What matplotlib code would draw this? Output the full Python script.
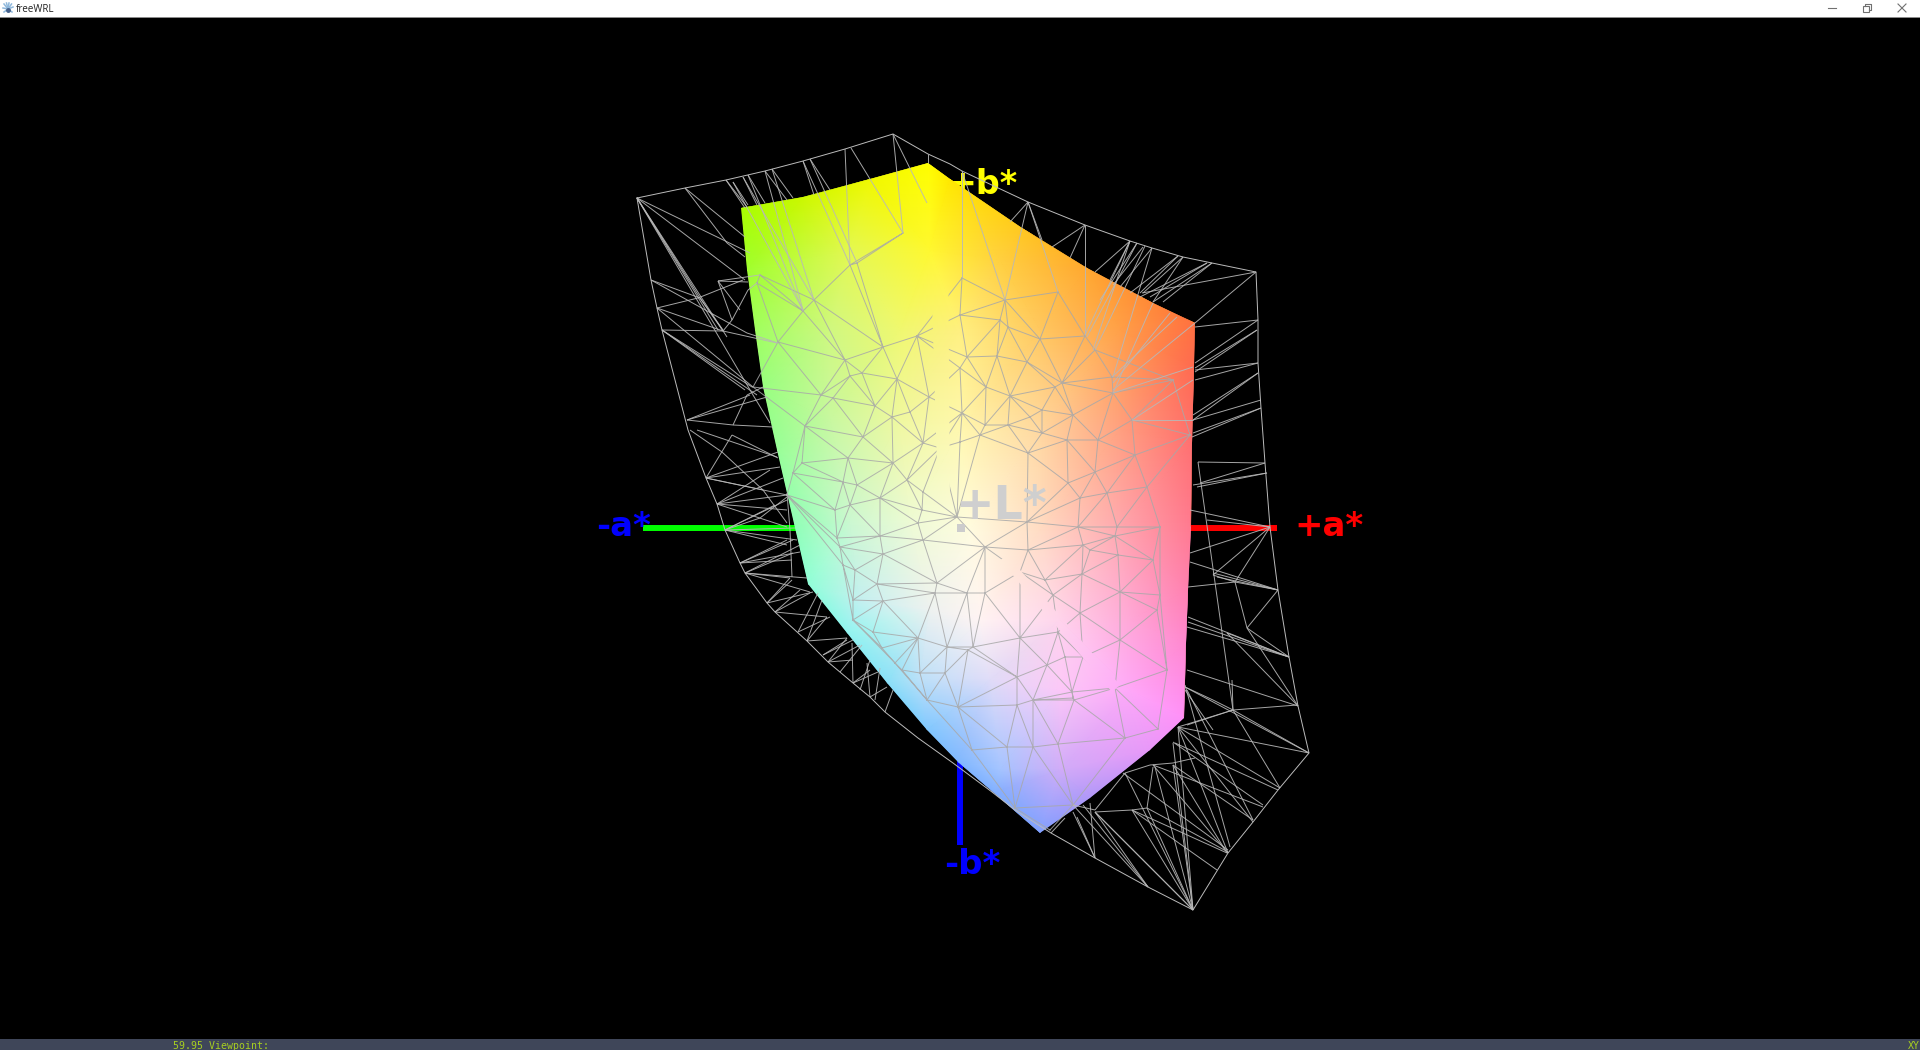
import numpy as np
import matplotlib
matplotlib.use("Agg")
import matplotlib.pyplot as plt
from matplotlib.collections import LineCollection, TriMesh
from matplotlib.colors import to_rgba_array
from matplotlib.patches import Polygon, Rectangle, PathPatch
from matplotlib.path import Path
from matplotlib.tri import Triangulation

# gamut solid, outline then inner colour nodes (x, y, colour)
gamut_outline = [
    (741, 208, "#a8ff00"), (803, 197, "#ccf800"), (870, 179, "#f0f800"), (928, 163, "#ffff00"),
    (950, 179, "#ffe800"), (1022, 228, "#ffc820"), (1087, 268, "#ffa830"), (1153, 303, "#ff8838"),
    (1195, 323, "#ff7040"), (1194, 367, "#ff6a50"), (1192, 443, "#ff7070"), (1191, 527, "#ff7a90"),
    (1188, 590, "#ff80b0"), (1186, 643, "#ff88d0"), (1184, 718, "#ff90f8"), (1150, 750, "#e898f8"),
    (1090, 798, "#b098f8"), (1040, 833, "#80a0ff"), (993, 792, "#80b0ff"), (958, 762, "#80b8ff"),
    (927, 730, "#80c8ff"), (887, 683, "#88e0f8"), (847, 633, "#90f4f0"), (808, 584, "#90ffd8"),
    (795, 528, "#90ffb8"), (777, 450, "#98ff98"), (763, 387, "#98ff80"), (755, 330, "#a0ff60"),
    (747, 270, "#a0ff30"),
]
gamut_inner = [
    (850, 250, "#e4f850"), (930, 250, "#fff830"), (1000, 260, "#ffd040"),
    (830, 330, "#d0f880"), (900, 330, "#f0f870"), (960, 330, "#fff080"), (1040, 330, "#ffc860"), (1120, 330, "#ffa048"),
    (830, 420, "#c8f8a0"), (900, 420, "#f0f8a0"), (960, 430, "#fff8b0"), (1040, 430, "#ffd8a0"), (1120, 430, "#ffa080"),
    (850, 520, "#ccf8d0"), (910, 520, "#eefbd4"), (970, 530, "#fffce0"), (1040, 530, "#ffdcc4"), (1120, 530, "#ffa8b0"),
    (860, 600, "#c4f0f0"), (930, 610, "#eef2f0"), (980, 620, "#fff4f4"), (1060, 620, "#ffd4ec"), (1130, 620, "#ffa8d8"),
    (920, 680, "#bce0f8"), (990, 680, "#e0dcf8"), (1060, 690, "#fcc8f8"), (1130, 690, "#ffa8f8"),
    (1000, 770, "#a4c4ff"), (1060, 770, "#d0acf8"),
]

# wire frame of the bigger gamut
wire_outline = [
    (637, 198), (685, 188), (726, 180), (765, 171), (803, 161), (845, 149), (893, 134), (928, 154),
    (950, 164), (962, 171), (1028, 202), (1085, 225), (1130, 241), (1152, 248), (1183, 257), (1212, 263),
    (1256, 272), (1258, 320), (1258, 363), (1261, 408), (1265, 463), (1270, 527), (1278, 590), (1289, 657),
    (1298, 706), (1309, 753), (1278, 790), (1253, 822), (1228, 853), (1193, 910), (1148, 887), (1095, 858),
    (1051, 833), (1015, 810), (992, 792), (953, 763), (918, 738), (885, 712), (870, 697), (853, 683),
    (828, 662), (807, 641), (775, 612), (767, 603), (745, 573), (740, 563), (725, 530), (717, 504),
    (706, 478), (688, 430), (662, 330), (657, 308), (651, 280),
]
wire_inner = [
    (903, 233), (850, 265), (857, 263), (814, 300), (803, 311), (760, 275), (757, 283), (778, 342),
    (845, 360), (883, 347), (917, 336), (897, 379), (850, 376), (862, 373), (821, 395), (833, 398),
    (875, 406), (929, 397), (892, 417), (910, 412), (805, 426), (753, 387), (962, 278), (960, 315),
    (1005, 300), (1000, 320), (1008, 327), (1040, 339), (1058, 292), (1085, 336), (1095, 350), (967, 357),
    (997, 356), (1027, 362), (960, 368), (986, 387), (1010, 396), (1042, 410), (1062, 383), (1055, 387),
    (1073, 415), (1112, 377), (1113, 393), (1173, 380), (1132, 420), (1190, 435), (1098, 440), (1067, 440),
    (1042, 433), (1008, 425), (985, 425), (980, 435), (960, 442), (962, 413), (1030, 417), (802, 463),
    (793, 473), (848, 458), (843, 482), (857, 485), (893, 463), (940, 448), (863, 437), (923, 443),
    (907, 480), (923, 492), (880, 498), (850, 505), (835, 510), (787, 495), (880, 536), (837, 538),
    (923, 540), (918, 523), (922, 510), (957, 517), (840, 547), (883, 554), (985, 547), (843, 565),
    (855, 570), (877, 584), (937, 583), (853, 600), (883, 601), (935, 593), (967, 593), (985, 593),
    (853, 620), (873, 632), (918, 638), (947, 647), (973, 647), (882, 648), (902, 670), (920, 673),
    (945, 673), (968, 650), (927, 700), (958, 707), (895, 663), (1028, 453), (1068, 483), (1095, 472),
    (1098, 440), (1135, 455), (1147, 487), (1107, 493), (1080, 498), (1027, 522), (1078, 527), (1117, 527),
    (1160, 527), (1115, 536), (1083, 545), (1090, 550), (1028, 550), (1118, 555), (1153, 560), (1020, 572),
    (1045, 580), (1082, 574), (1053, 595), (1120, 592), (1160, 595), (1157, 610), (1080, 613), (1120, 640),
    (1058, 632), (1020, 638), (1065, 657), (1047, 665), (1017, 677), (1083, 657), (1115, 688), (1167, 670),
    (1073, 698), (1033, 700), (1072, 692), (1074, 700), (1058, 744), (1125, 738), (1158, 729), (1073, 805),
    (972, 750), (1007, 747), (1015, 808), (1033, 747), (1050, 830), (1017, 705),
]

# long thin edges around the solid, x0 y0 x1 y1
spokes = [
    # top and upper left
    (637, 198, 750, 253), (637, 198, 745, 280), (637, 198, 700, 298), (700, 298, 723, 330), (637, 198, 727, 337),
    (637, 198, 718, 330), (637, 198, 753, 395), (685, 188, 745, 237), (685, 188, 727, 243), (727, 243, 745, 257),
    (726, 180, 747, 207), (733, 182, 803, 310), (743, 177, 814, 300), (748, 175, 803, 311), (765, 171, 803, 310),
    (772, 169, 814, 300), (803, 161, 850, 265), (810, 159, 857, 263), (845, 149, 850, 265), (851, 148, 903, 233),
    (893, 134, 903, 233), (893, 134, 927, 203), (803, 161, 814, 195), (810, 159, 830, 190), (726, 180, 745, 208),
    (733, 182, 748, 205), (743, 177, 757, 205), (748, 175, 765, 203), (765, 171, 787, 200), (772, 169, 793, 198),
    (928, 154, 928, 163), (651, 280, 747, 333), (747, 333, 778, 343), (651, 280, 700, 298), (700, 298, 723, 331),
    (657, 308, 698, 298), (698, 298, 743, 280), (657, 308, 723, 331), (657, 308, 753, 387), (662, 330, 723, 331),
    (723, 331, 777, 343), (662, 330, 752, 387), (662, 330, 757, 395), (662, 330, 745, 390), (687, 420, 750, 395),
    (687, 420, 767, 397), (718, 281, 748, 282), (718, 281, 732, 320), (732, 320, 723, 331), (732, 320, 748, 290),
    (748, 290, 757, 283), (718, 281, 740, 310), (718, 281, 760, 275), (687, 420, 733, 425), (733, 425, 773, 427),
    (733, 425, 747, 395), (747, 395, 763, 387), (753, 395, 770, 423),
    # lower left
    (706, 478, 780, 467), (706, 478, 787, 495), (732, 435, 706, 478), (732, 435, 778, 458), (690, 430, 722, 452),
    (722, 452, 763, 490), (763, 490, 787, 523), (697, 430, 777, 457), (717, 504, 787, 495), (717, 504, 787, 527),
    (725, 530, 760, 518), (760, 518, 787, 497), (725, 530, 795, 528), (725, 530, 787, 545), (740, 563, 793, 540),
    (740, 563, 800, 552), (745, 573, 807, 578), (745, 573, 793, 553), (767, 603, 792, 580), (775, 612, 810, 593),
    (775, 612, 827, 617), (767, 603, 813, 592), (798, 632, 818, 593), (807, 641, 847, 638), (807, 641, 827, 617),
    (823, 655, 847, 640), (828, 662, 853, 660), (828, 662, 847, 638), (853, 683, 852, 643), (853, 683, 870, 670),
    (870, 697, 867, 663), (870, 697, 887, 687), (885, 712, 893, 690), (787, 493, 790, 530), (790, 530, 792, 577),
    (706, 478, 763, 490), (745, 573, 790, 578), (717, 504, 787, 510), (725, 530, 797, 540), (740, 563, 787, 540),
    (745, 573, 810, 592), (767, 603, 790, 578), (775, 612, 800, 590), (798, 632, 830, 617), (807, 641, 822, 600),
    (823, 655, 853, 640), (828, 662, 860, 645), (840, 672, 862, 645), (853, 683, 878, 672), (860, 690, 870, 660),
    (875, 700, 880, 668), (740, 563, 792, 560), (745, 573, 800, 545), (725, 530, 775, 505), (717, 504, 783, 478),
    (706, 478, 778, 452), (717, 504, 770, 470), (725, 530, 787, 500),
    # top right
    (1130, 241, 1095, 272), (1130, 241, 1110, 280), (1130, 241, 1093, 350), (1130, 241, 1085, 335),
    (1137, 243, 1087, 337), (1137, 243, 1100, 300), (1145, 246, 1095, 350), (1143, 247, 1113, 285),
    (1152, 248, 1120, 287), (1152, 248, 1113, 377), (1178, 256, 1130, 293), (1183, 257, 1143, 293),
    (1178, 256, 1140, 293), (1183, 257, 1153, 302), (1207, 263, 1150, 297), (1212, 263, 1153, 302),
    (1207, 263, 1140, 297), (1212, 263, 1163, 302), (1256, 272, 1195, 323), (1256, 272, 1142, 293),
    (1085, 225, 1052, 247), (1085, 225, 1070, 258), (1085, 225, 1085, 335), (1028, 202, 1010, 222),
    (1028, 202, 1042, 240), (1028, 202, 1005, 300), (1028, 202, 1058, 292), (962, 171, 962, 278),
    (962, 171, 1005, 300), (1153, 303, 1113, 393), (1170, 313, 1113, 383), (1195, 323, 1113, 390),
    (1113, 393, 1193, 367), (1132, 420, 1193, 380), (1132, 420, 1193, 420), (1112, 377, 1177, 317),
    # right
    (1258, 320, 1195, 327), (1258, 320, 1195, 363), (1257, 330, 1195, 368), (1257, 330, 1195, 372),
    (1258, 363, 1195, 370), (1258, 363, 1195, 380), (1258, 373, 1193, 420), (1261, 400, 1193, 420),
    (1261, 408, 1193, 433), (1261, 408, 1192, 437), (1258, 373, 1193, 415), (1265, 463, 1198, 462),
    (1267, 473, 1193, 485), (1267, 473, 1197, 487), (1265, 463, 1200, 483), (1270, 527, 1190, 510),
    (1270, 527, 1207, 520), (1270, 527, 1190, 553), (1270, 527, 1213, 575), (1270, 527, 1235, 582),
    (1278, 590, 1190, 562), (1278, 590, 1213, 573), (1278, 590, 1217, 577), (1278, 590, 1235, 582),
    (1278, 590, 1247, 628), (1188, 587, 1235, 582), (1235, 582, 1247, 628), (1213, 575, 1235, 582),
    (1289, 657, 1188, 617), (1289, 657, 1188, 622), (1289, 657, 1187, 627), (1289, 657, 1227, 633),
    (1289, 657, 1247, 628), (1298, 706, 1227, 633), (1298, 706, 1247, 628), (1298, 706, 1187, 670),
    (1185, 687, 1213, 700), (1213, 700, 1233, 710), (1233, 710, 1187, 725), (1198, 462, 1233, 710),
    (1185, 690, 1213, 730),
    # bottom right
    (1309, 753, 1178, 727), (1309, 753, 1233, 710), (1309, 753, 1185, 687), (1233, 710, 1297, 705),
    (1178, 727, 1233, 710), (1232, 680, 1233, 710), (1233, 710, 1280, 788), (1185, 685, 1230, 847),
    (1187, 690, 1253, 820), (1178, 727, 1280, 788), (1173, 742, 1263, 805), (1173, 765, 1253, 820),
    (1153, 765, 1228, 853), (1173, 765, 1227, 853), (1173, 743, 1193, 910), (1155, 767, 1193, 910),
    (1125, 773, 1193, 910), (1132, 810, 1227, 853), (1147, 808, 1228, 852), (1123, 773, 1228, 850),
    (1095, 812, 1148, 887), (1095, 812, 1193, 910), (1077, 817, 1095, 858), (1083, 805, 1148, 887),
    (1125, 773, 1150, 765), (1150, 765, 1173, 763), (1173, 763, 1195, 758), (1095, 812, 1132, 810),
    (1132, 810, 1147, 808), (1147, 808, 1153, 767), (1073, 805, 1095, 810), (1125, 773, 1095, 810),
    (1193, 910, 1178, 727), (1193, 910, 1132, 810), (1193, 910, 1147, 808), (1193, 910, 1173, 765),
    (1228, 853, 1178, 727), (1253, 822, 1178, 727), (1263, 807, 1153, 765), (1278, 790, 1175, 743),
    (1095, 858, 1073, 812), (1095, 858, 1090, 803), (1217, 870, 1132, 810), (1051, 833, 1065, 818),
    (1193, 910, 1095, 812), (1148, 887, 1073, 805),
]

labels = [
    ("+b*", 948, 185, "#ffff00", 1, 24),
    ("+a*", 1294, 527, "#ff0000", 5, 24.5),
    ("-a*", 596, 527, "#0000ff", 5, 24.5),
    ("-b*", 944, 865, "#0000ff", 5, 24.5),
]

status_text = "59.95 Viewpoint:"
status_right = "XY"
window_title = "freeWRL"

fig = plt.figure(figsize=(19.2, 10.5), dpi=100, facecolor="black")
ax = fig.add_axes([0, 0, 1, 1])
ax.set_xlim(0, 1920)
ax.set_ylim(1050, 0)
ax.axis("off")

# axis bars, behind the solid
ax.plot([643, 800], [528, 528], color="#00ff00", lw=4.3, solid_capstyle="butt", zorder=1)
ax.plot([1185, 1277], [528, 528], color="#ff0000", lw=4.3, solid_capstyle="butt", zorder=1)
ax.plot([960, 960], [755, 845], color="#0000ff", lw=4.3, solid_capstyle="butt", zorder=1)

for text, x, y, col, z, size in labels:
    ax.text(x, y, text, color=col, fontsize=size, fontweight="bold", family="DejaVu Sans",
            ha="left", va="center", zorder=z)
ax.text(955, 519, "+L*", color="#cfcfcf", fontsize=33, fontweight="bold", family="DejaVu Sans",
        ha="left", va="baseline", zorder=5)

# gamut solid with smooth vertex colours
all_nodes = gamut_outline + gamut_inner
gx = np.array([p[0] for p in all_nodes], dtype=float)
gy = np.array([p[1] for p in all_nodes], dtype=float)
gcol = to_rgba_array([p[2] for p in all_nodes])
solid = TriMesh(Triangulation(gx, gy), zorder=2)
solid.set_facecolor(gcol)
ax.add_collection(solid, autolim=False)
clip = Polygon([(p[0], p[1]) for p in gamut_outline], closed=True, transform=ax.transData,
               fc="none", ec="none")
ax.add_patch(clip)
solid.set_clip_path(clip)

# wire frame, triangles only where they sit on the solid, no long hull edges
wx = np.array([p[0] for p in wire_inner], dtype=float)
wy = np.array([p[1] for p in wire_inner], dtype=float)
wire = Triangulation(wx, wy)
gamut_path = Path([(p[0], p[1]) for p in gamut_outline] + [gamut_outline[0][:2]])
tx = wx[wire.triangles]
ty = wy[wire.triangles]
cx = tx.mean(axis=1)
cy = ty.mean(axis=1)
longest = np.hypot(tx - np.roll(tx, 1, axis=1), ty - np.roll(ty, 1, axis=1)).max(axis=1)
wire.set_mask(~gamut_path.contains_points(np.column_stack([cx, cy])) | (longest > 90))
inner_lines = ax.triplot(wire, color="#a8a8a8", lw=0.7, alpha=0.85, marker="", zorder=3)

# the mesh drops out in two narrow strips where it meets the solid
holes = Path(
    [(0, 0), (1920, 0), (1920, 1050), (0, 1050), (0, 0),
     (930, 235), (938, 500), (950, 500), (948, 235), (930, 235),
     (1000, 560), (1112, 692), (1120, 685), (1008, 556), (1000, 560)],
    [Path.MOVETO, Path.LINETO, Path.LINETO, Path.LINETO, Path.CLOSEPOLY,
     Path.MOVETO, Path.LINETO, Path.LINETO, Path.LINETO, Path.CLOSEPOLY,
     Path.MOVETO, Path.LINETO, Path.LINETO, Path.LINETO, Path.CLOSEPOLY],
)
hole_patch = PathPatch(holes, transform=ax.transData, fc="none", ec="none")
ax.add_patch(hole_patch)
for ln in inner_lines:
    ln.set_clip_path(hole_patch)

rx = [p[0] for p in wire_outline] + [wire_outline[0][0]]
ry = [p[1] for p in wire_outline] + [wire_outline[0][1]]
ax.plot(rx, ry, color="#bcbcbc", lw=0.7, zorder=3)
segs = [[(s[0], s[1]), (s[2], s[3])] for s in spokes]
ax.add_collection(LineCollection(segs, colors="#b8b8b8", linewidths=0.7, alpha=0.9, zorder=3), autolim=False)

# L axis end
ax.add_patch(Rectangle((957, 524), 8, 8, fc="#cccccc", ec="none", zorder=5))

# window title bar
ax.add_patch(Rectangle((0, 0), 1920, 17, fc="white", ec="none", zorder=6))
ax.plot([0, 1920], [17, 17], color="#909090", lw=0.7, zorder=7)
for dx, dy in [(-4, -5), (-1.5, -6), (1, -6), (3.5, -5), (5, -2), (-5, -1), (-4, 3), (4, 3)]:
    ax.plot([8, 8 + dx], [9, 9 + dy], color="#8fb8dc", lw=1.1, zorder=7)
ax.plot([8], [10], marker="o", ms=2.5, color="#44608a", zorder=8)
ax.text(16, 9.5, window_title, color="#202020", fontsize=7, family="Open Sans", ha="left", va="center", zorder=7)
ax.plot([1828, 1836], [8, 8], color="#707070", lw=0.8, zorder=7)
ax.add_patch(Rectangle((1863, 6), 6, 6, fc="none", ec="#707070", lw=0.8, zorder=7))
ax.plot([1865, 1865, 1871, 1871, 1869], [6, 4, 4, 10, 10], color="#707070", lw=0.8, zorder=7)
ax.plot([1898, 1906], [4, 12], color="#707070", lw=0.8, zorder=7)
ax.plot([1898, 1906], [12, 4], color="#707070", lw=0.8, zorder=7)

# status bar
ax.add_patch(Rectangle((0, 1039), 1920, 11, fc="#3f4659", ec="none", zorder=6))
ax.text(173, 1049, status_text, color="#a8d020", fontsize=7.1, family="DejaVu Sans Mono",
        ha="left", va="baseline", zorder=7)
ax.text(1908, 1049, status_right, color="#a8d020", fontsize=7.1, family="DejaVu Sans Mono",
        ha="left", va="baseline", zorder=7)

fig.savefig("out.png", dpi=100, facecolor="black")
